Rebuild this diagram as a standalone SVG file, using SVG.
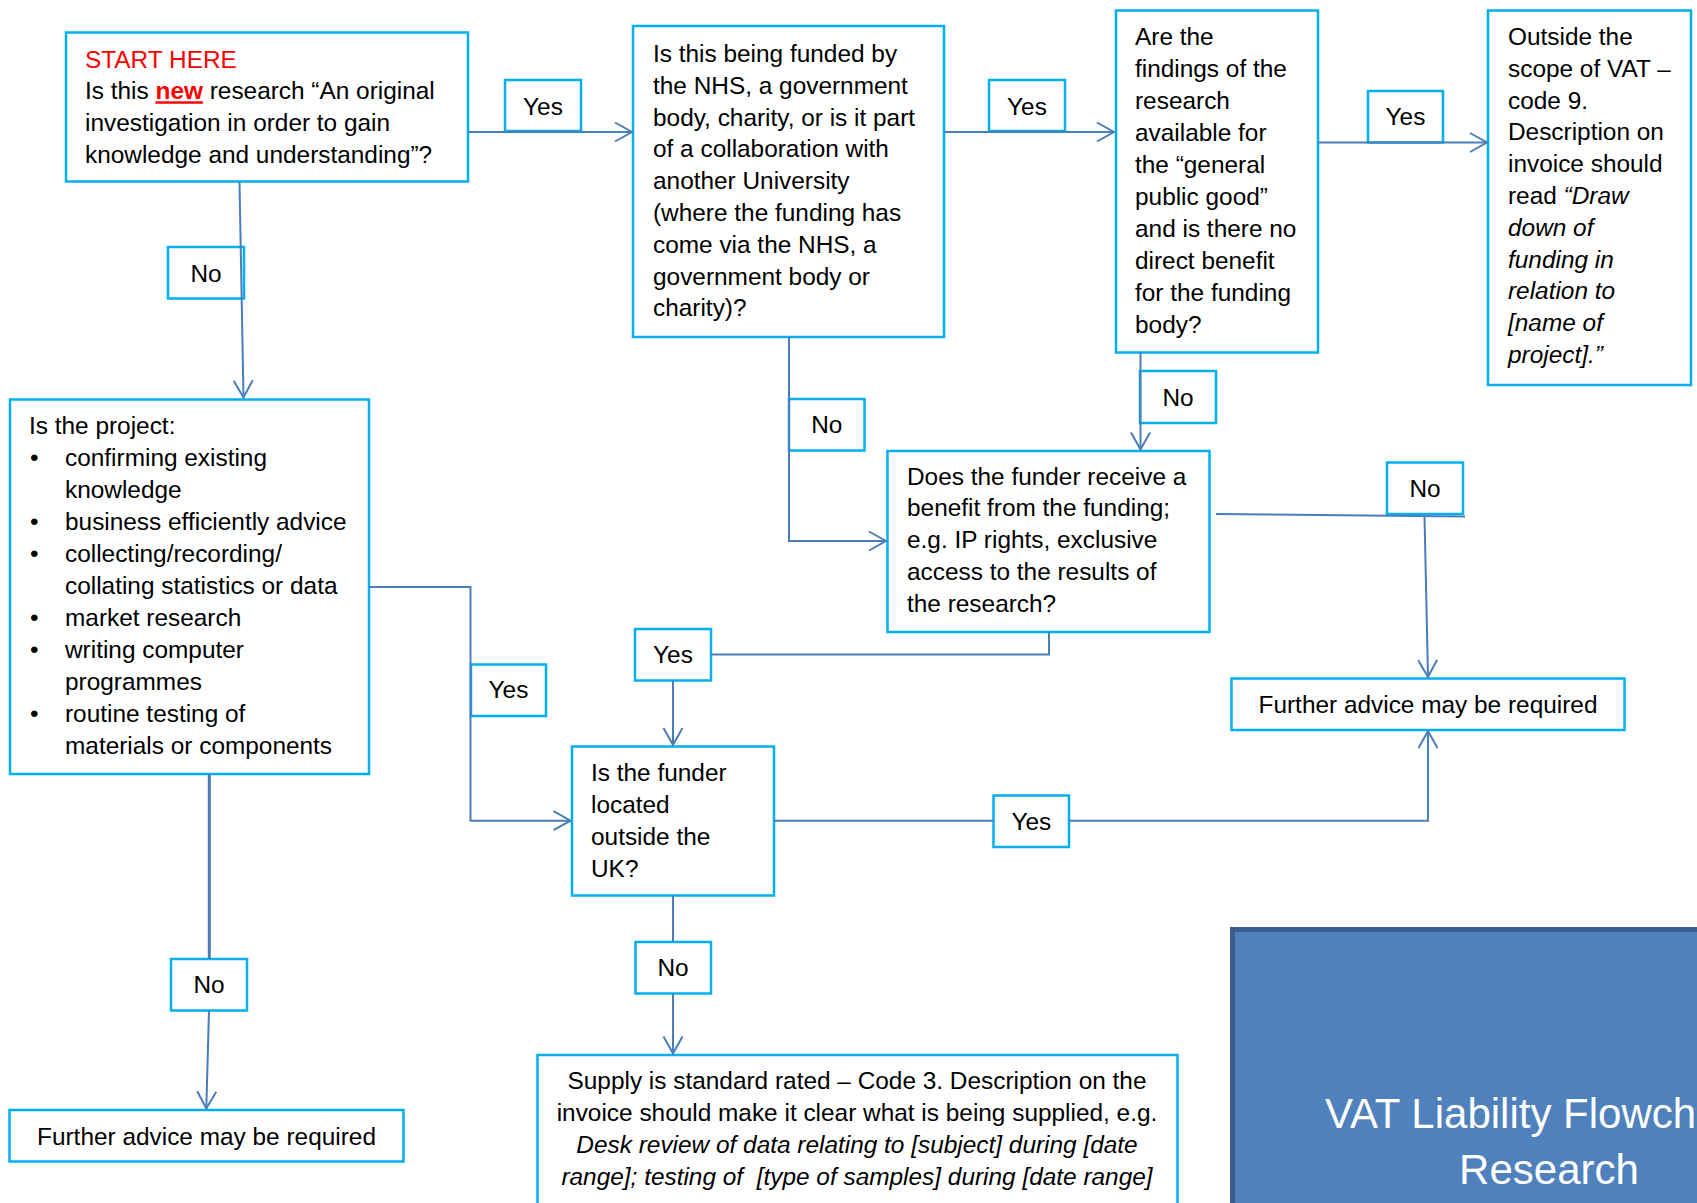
<svg xmlns="http://www.w3.org/2000/svg" width="1697" height="1203" viewBox="0 0 1697 1203">
<style>
.box{fill:#fff;stroke:#00B0F0;stroke-width:2.5}
.t{font-family:'Liberation Sans',Arial,sans-serif;font-size:24.4px;fill:#000}
.m{text-anchor:middle}
.i{font-style:italic}
.c{fill:none;stroke:#4A7EBB;stroke-width:2}
.a{marker-end:url(#arr)}
</style>
<defs>
<marker id="arr" markerUnits="userSpaceOnUse" markerWidth="22" markerHeight="24" refX="18" refY="11" orient="auto">
<path d="M1,1.5 L18,11 L1,20.5" fill="none" stroke="#4A7EBB" stroke-width="2"/>
</marker>
</defs>
<rect width="1697" height="1203" fill="#fff"/>

<g id="start">
<rect class="box" x="66" y="32.5" width="402" height="149"/>
<text class="t" x="85" y="67.5" style="fill:#FF0000">START HERE</text>
<text class="t" x="85" y="99.3">Is this <tspan style="fill:#FF0000;font-weight:bold;text-decoration:underline">new</tspan> research “An original</text>
<text class="t" x="85" y="131">investigation in order to gain</text>
<text class="t" x="85" y="163">knowledge and understanding”?</text>
</g>

<g id="q-funded">
<rect class="box" x="633" y="26" width="311" height="311"/>
<text class="t" x="653" y="62">Is this being funded by</text>
<text class="t" x="653" y="93.8">the NHS, a government</text>
<text class="t" x="653" y="125.6">body, charity, or is it part</text>
<text class="t" x="653" y="157.4">of a collaboration with</text>
<text class="t" x="653" y="189.2">another University</text>
<text class="t" x="653" y="221">(where the funding has</text>
<text class="t" x="653" y="252.8">come via the NHS, a</text>
<text class="t" x="653" y="284.6">government body or</text>
<text class="t" x="653" y="316.4">charity)?</text>
</g>

<g id="q-public">
<rect class="box" x="1116" y="10.5" width="202" height="342"/>
<text class="t" x="1135" y="45">Are the</text>
<text class="t" x="1135" y="77">findings of the</text>
<text class="t" x="1135" y="109">research</text>
<text class="t" x="1135" y="141">available for</text>
<text class="t" x="1135" y="173">the “general</text>
<text class="t" x="1135" y="205">public good”</text>
<text class="t" x="1135" y="237">and is there no</text>
<text class="t" x="1135" y="269">direct benefit</text>
<text class="t" x="1135" y="301">for the funding</text>
<text class="t" x="1135" y="333">body?</text>
</g>

<g id="outside">
<rect class="box" x="1488" y="10.5" width="203" height="374.5"/>
<text class="t" x="1508" y="45">Outside the</text>
<text class="t" x="1508" y="76.8">scope of VAT –</text>
<text class="t" x="1508" y="108.6">code 9.</text>
<text class="t" x="1508" y="140.4">Description on</text>
<text class="t" x="1508" y="172.2">invoice should</text>
<text class="t" x="1508" y="204">read <tspan class="i">“Draw</tspan></text>
<text class="t i" x="1508" y="235.8">down of</text>
<text class="t i" x="1508" y="267.6">funding in</text>
<text class="t i" x="1508" y="299.4">relation to</text>
<text class="t i" x="1508" y="331.2">[name of</text>
<text class="t i" x="1508" y="363">project].”</text>
</g>

<g id="project">
<rect class="box" x="10" y="399.5" width="359" height="374.5"/>
<text class="t" x="29" y="433.5">Is the project:</text>
<text class="t" x="30" y="465.5">•</text>
<text class="t" x="65" y="465.5">confirming existing</text>
<text class="t" x="65" y="497.5">knowledge</text>
<text class="t" x="30" y="529.5">•</text>
<text class="t" x="65" y="529.5">business efficiently advice</text>
<text class="t" x="30" y="561.5">•</text>
<text class="t" x="65" y="561.5">collecting/recording/</text>
<text class="t" x="65" y="593.5">collating statistics or data</text>
<text class="t" x="30" y="625.5">•</text>
<text class="t" x="65" y="625.5">market research</text>
<text class="t" x="30" y="657.5">•</text>
<text class="t" x="65" y="657.5">writing computer</text>
<text class="t" x="65" y="689.5">programmes</text>
<text class="t" x="30" y="721.5">•</text>
<text class="t" x="65" y="721.5">routine testing of</text>
<text class="t" x="65" y="753.5">materials or components</text>
</g>

<g id="q-benefit">
<rect class="box" x="887.5" y="451" width="322" height="181"/>
<text class="t" x="907" y="484.5">Does the funder receive a</text>
<text class="t" x="907" y="516.3">benefit from the funding;</text>
<text class="t" x="907" y="548.1">e.g. IP rights, exclusive</text>
<text class="t" x="907" y="579.9">access to the results of</text>
<text class="t" x="907" y="611.7">the research?</text>
</g>

<g id="q-uk">
<rect class="box" x="572" y="746.5" width="202" height="149"/>
<text class="t" x="591" y="781">Is the funder</text>
<text class="t" x="591" y="812.9">located</text>
<text class="t" x="591" y="844.8">outside the</text>
<text class="t" x="591" y="876.7">UK?</text>
</g>

<g id="further-right">
<rect class="box" x="1231.5" y="678.5" width="393" height="51.5"/>
<text class="t m" x="1428" y="713.3">Further advice may be required</text>
</g>

<g id="further-left">
<rect class="box" x="9.5" y="1110" width="394" height="51.5"/>
<text class="t m" x="206.5" y="1145">Further advice may be required</text>
</g>

<g id="supply">
<rect class="box" x="537.5" y="1055" width="640" height="160"/>
<text class="t m" x="857" y="1089.3">Supply is standard rated – Code 3. Description on the</text>
<text class="t m" x="857" y="1121.2">invoice should make it clear what is being supplied, e.g.</text>
<text class="t m i" x="857" y="1153.1">Desk review of data relating to [subject] during [date</text>
<text class="t m i" x="857" y="1185" xml:space="preserve">range]; testing of  [type of samples] during [date range]</text>
</g>

<g id="title">
<rect x="1232.5" y="929.5" width="480" height="300" fill="#4F81BD" stroke="#3A5F8C" stroke-width="5"/>
<text x="1325" y="1128" style="font-family:'Liberation Sans',Arial,sans-serif;font-size:42px;fill:#fff">VAT Liability Flowch</text>
<text x="1549" y="1184" text-anchor="middle" style="font-family:'Liberation Sans',Arial,sans-serif;font-size:42px;fill:#fff">Research</text>
</g>

<g id="labels">
<g id="lbl-yes1"><rect class="box" x="505" y="80" width="76" height="51"/><text class="t m" x="543" y="115">Yes</text></g>
<g id="lbl-yes2"><rect class="box" x="989" y="80" width="76" height="51"/><text class="t m" x="1027" y="115">Yes</text></g>
<g id="lbl-yes3"><rect class="box" x="1368" y="91" width="75" height="51.5"/><text class="t m" x="1405.5" y="125">Yes</text></g>
<g id="lbl-no1"><rect class="box" x="168" y="247" width="76" height="51.5"/><text class="t m" x="206" y="281.7">No</text></g>
<g id="lbl-no2"><rect class="box" x="789" y="399" width="75.5" height="51.5"/><text class="t m" x="826.8" y="433.3">No</text></g>
<g id="lbl-no3"><rect class="box" x="1140" y="371" width="76" height="52"/><text class="t m" x="1178" y="406">No</text></g>
<g id="lbl-no4"><rect class="box" x="1387" y="462.5" width="76" height="51.5"/><text class="t m" x="1425" y="497.3">No</text></g>
<g id="lbl-yes5"><rect class="box" x="635" y="629" width="76" height="51.5"/><text class="t m" x="673" y="663.3">Yes</text></g>
<g id="lbl-yes6"><rect class="box" x="471" y="664.5" width="75" height="51.5"/><text class="t m" x="508.5" y="698">Yes</text></g>
<g id="lbl-yes7"><rect class="box" x="993.5" y="795.5" width="75.5" height="51.5"/><text class="t m" x="1031.3" y="830">Yes</text></g>
<g id="lbl-no5"><rect class="box" x="635.5" y="942" width="75.5" height="51.5"/><text class="t m" x="673" y="975.7">No</text></g>
<g id="lbl-no6"><rect class="box" x="171" y="959" width="76" height="51.5"/><text class="t m" x="209" y="993.3">No</text></g>
</g>

<g id="connectors">
<path class="c a" d="M468,132 L632,132"/>
<path class="c a" d="M944,132 L1114,132"/>
<path class="c a" d="M1318,142.5 L1487,142.5"/>
<path class="c a" d="M239.5,182 L243.5,397.5"/>
<path class="c a" d="M789,337 L789,541 L886,541"/>
<path class="c a" d="M1140.5,352.5 L1140.5,449.5"/>
<path class="c" d="M1216,514 L1465,516.5"/>
<path class="c a" d="M1424.5,516 L1428,677"/>
<path class="c" d="M1049,632 L1049,654.5 L711,654.5"/>
<path class="c a" d="M673,680.5 L673,745"/>
<path class="c a" d="M369,587 L470.5,587 L470.5,820.7 L570.5,820.7"/>
<path class="c" d="M774,820.7 L993.5,820.7"/>
<path class="c a" d="M1069,820.7 L1428,820.7 L1428,731"/>
<path class="c" d="M673,895.5 L673,942"/>
<path class="c a" d="M673,993.5 L673,1053.5"/>
<path class="c" style="stroke-width:3" d="M209.3,774 L209.3,959"/>
<path class="c a" d="M209,1010.5 L206.3,1108.5"/>
</g>
</svg>
